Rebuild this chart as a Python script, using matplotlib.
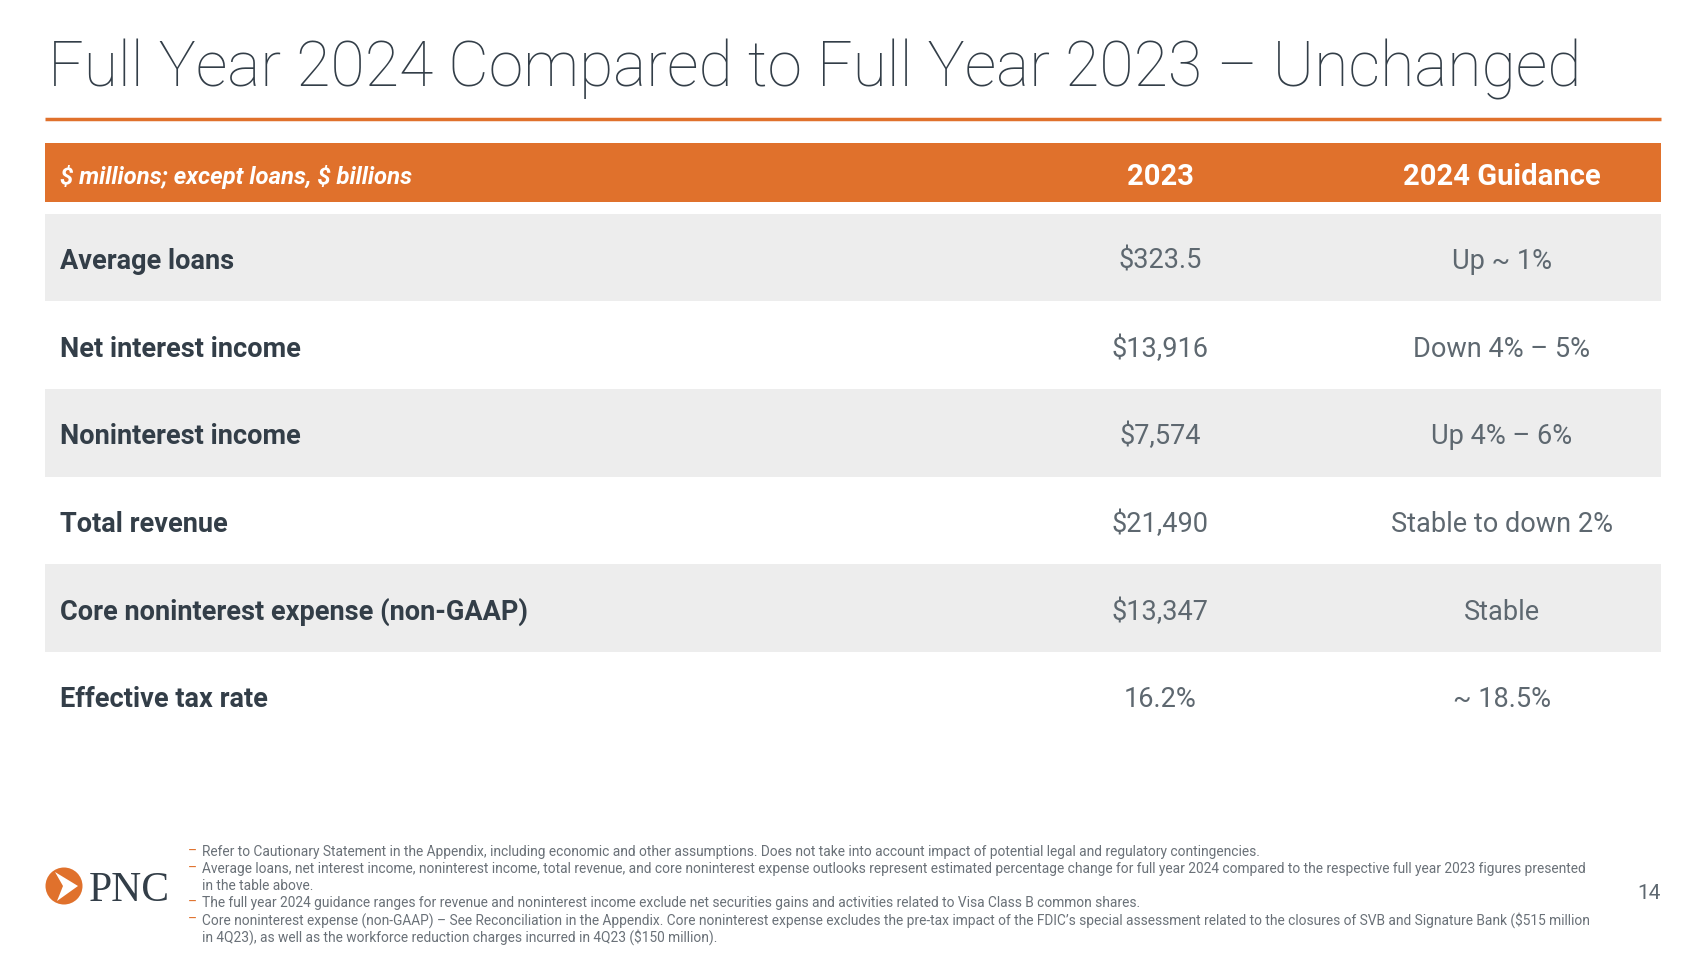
import matplotlib
matplotlib.use('Agg')
import matplotlib.pyplot as plt
from matplotlib.patches import Rectangle, Circle, Polygon

title = 'Full Year 2024 Compared to Full Year 2023 \u2013 Unchanged'
header_labels = [r'\$ millions; except loans, \$ billions', '2023', '2024 Guidance']
row_labels = ['Average loans', 'Net interest income', 'Noninterest income',
              'Total revenue', 'Core noninterest expense (non-GAAP)', 'Effective tax rate']
values_2023 = [r'\$323.5', r'\$13,916', r'\$7,574', r'\$21,490', r'\$13,347', '16.2%']
guidance_2024 = ['Up ~ 1%', 'Down 4% \u2013 5%', 'Up 4% \u2013 6%',
                 'Stable to down 2%', 'Stable', '~ 18.5%']
footnotes = [
    ['Refer to Cautionary Statement in the Appendix, including economic and other assumptions. Does not take into account impact of potential legal and regulatory contingencies.'],
    ['Average loans, net interest income, noninterest income, total revenue, and core noninterest expense outlooks represent estimated percentage change for full year 2024 compared to the respective full year 2023 figures presented',
     'in the table above.'],
    ['The full year 2024 guidance ranges for revenue and noninterest income exclude net securities gains and activities related to Visa Class B common shares.'],
    ['Core noninterest expense (non-GAAP) \u2013 See Reconciliation in the Appendix. Core noninterest expense excludes the pre-tax impact of the FDIC\u2019s special assessment related to the closures of SVB and Signature Bank (\\$515 million',
     'in 4Q23), as well as the workforce reduction charges incurred in 4Q23 (\\$150 million).'],
]
page_no = '14'

ORANGE = '#E0712C'
DARK = '#333E48'
GREY_TXT = '#5E6870'
NOTE_TXT = '#6A7178'
ROW_BG = '#EDEDED'
font = ['Roboto', 'DejaVu Sans']

W, H = 1698, 954
fig = plt.figure(figsize=(W / 100, H / 100), dpi=100)
ax = fig.add_axes([0, 0, 1, 1])
ax.set_xlim(0, W)
ax.set_ylim(H, 0)
ax.axis('off')

# title + rule
ax.text(48, 87, title, fontsize=45, family=['Roboto'], fontweight='light',
        color=DARK, va='baseline', ha='left')
ax.plot([45, 1661], [119.5, 119.5], color=ORANGE, lw=2.5, solid_capstyle='butt')

# header bar
left, right = 45.5, 1661
col_x = [60, 1160, 1502]
ax.add_patch(Rectangle((left, 144), right - left, 58.5, color=ORANGE, lw=0))
ax.text(col_x[0], 177, header_labels[0], fontsize=17.2, family=font,
        fontweight='bold', style='italic', color='white', va='center', ha='left')
for x, lab in zip(col_x[1:], header_labels[1:]):
    ax.text(x, 177, lab, fontsize=21, family=font, fontweight='bold',
            color='white', va='center', ha='center')

# rows
top0, rh = 214.5, 87.7
for i, (lab, v, g) in enumerate(zip(row_labels, values_2023, guidance_2024)):
    y0 = top0 + i * rh
    if i % 2 == 0:
        ax.add_patch(Rectangle((left, y0), right - left, rh, color=ROW_BG, lw=0))
    yc = y0 + rh / 2 + 3
    ax.text(col_x[0], yc, lab, fontsize=19.5, family=font, fontweight='bold',
            color=DARK, va='center', ha='left')
    ax.text(col_x[1], yc, v, fontsize=19.5, family=font, color=GREY_TXT,
            va='center', ha='center')
    ax.text(col_x[2], yc, g, fontsize=19.5, family=font, color=GREY_TXT,
            va='center', ha='center')

# footnotes
y = 852
for note in footnotes:
    ax.text(188, y, '\u2013', fontsize=9.9, family=font, color=ORANGE, va='center', ha='left')
    for line in note:
        ax.text(202, y, line, fontsize=9.95, family=font, color=NOTE_TXT, va='center', ha='left')
        y += 17

ax.text(1649, 894, page_no, fontsize=15, family=font, color=GREY_TXT,
        va='center', ha='center')

# PNC logo
ax.add_patch(Circle((64, 887), 18.5, color=ORANGE, lw=0))
ax.add_patch(Polygon([(55, 873), (78, 887), (57, 902), (63, 887)], closed=True,
                     color='white', lw=0))
ax.text(89, 901, 'PNC', fontsize=30, family=['Liberation Serif'], color=DARK,
        va='baseline', ha='left')

fig.savefig('out.png', dpi=100)
